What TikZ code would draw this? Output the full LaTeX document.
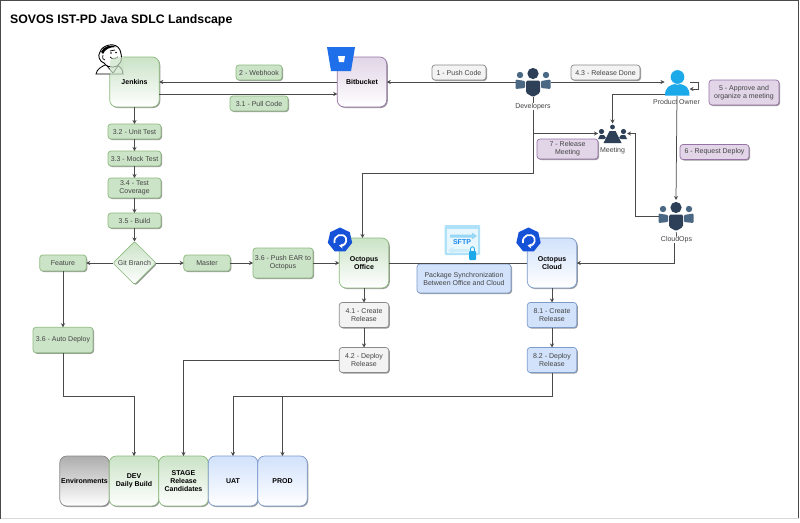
\documentclass[tikz,border=0pt]{standalone}
\usepackage{fontspec}
\setmainfont{Liberation Sans}
\usetikzlibrary{positioning,arrows.meta,shapes.geometric,shadows}
\definecolor{greenfill}{HTML}{CBE3C7}
\definecolor{greenline}{HTML}{8DBB7F}
\definecolor{purplefill}{HTML}{E1D5E7}
\definecolor{purpleline}{HTML}{9673A6}
\definecolor{bluefill}{HTML}{D2E2FB}
\definecolor{blueline}{HTML}{7C9BCB}
\definecolor{greyfill}{HTML}{F3F3F3}
\definecolor{greyline}{HTML}{8A8A8A}
\definecolor{textgrey}{HTML}{444444}
\definecolor{linegrey}{HTML}{4A4A4A}
\definecolor{crowddark}{HTML}{2E4057}
\definecolor{crowdside}{HTML}{4A6784}
\definecolor{ownerblue}{HTML}{1BA9EA}
\definecolor{octoblue}{HTML}{1652D8}
\definecolor{bucketblue}{HTML}{1F6FEB}
\tikzset{
x=1pt,
y=-1pt,
>={Stealth[length=4pt,width=4pt]},
flow/.style={->,draw=linegrey,line width=.75pt},
plain/.style={draw=linegrey,line width=.75pt},
softshadow/.style={drop shadow={shadow xshift=1pt,shadow yshift=-1pt,opacity=.4,fill=black}},
stepbox/.style={rounded corners=3pt,softshadow,align=center,inner sep=0pt,outer sep=0pt,line width=.7pt,
  text=textgrey,font=\fontsize{7}{8}\selectfont},
greenstep/.style={stepbox,fill=greenfill,draw=greenline},
purplestep/.style={stepbox,fill=purplefill,draw=purpleline},
greystep/.style={stepbox,fill=greyfill,draw=greyline},
bluestep/.style={stepbox,fill=bluefill,draw=blueline},
bigbox/.style={rounded corners=7pt,softshadow,align=center,inner sep=0pt,outer sep=0pt,line width=.7pt,
  minimum width=49.5pt,minimum height=50pt,bottom color=white,text=black,
  font=\bfseries\fontsize{7}{8}\selectfont},
biggreen/.style={bigbox,top color=greenfill,draw=greenline},
bigpurple/.style={bigbox,top color=purplefill,draw=purpleline},
bigblue/.style={bigbox,top color=bluefill,draw=blueline},
biggrey/.style={bigbox,top color=black!32,draw=greyline},
iconbox/.style={inner sep=0pt,outer sep=0pt,minimum width=#1},
caption/.style={inner sep=0pt,text=textgrey,font=\fontsize{7}{8}\selectfont},
octoicon/.style={regular polygon,regular polygon sides=7,fill=octoblue,inner sep=0pt,minimum size=25pt},
pics/crowd/.style={code={
  \fill[crowdside] (-13,-7) circle[radius=3.2] (13,-7) circle[radius=3.2];
  \fill[crowdside,rounded corners=1pt] (-17.5,-2.5) -- (-8,-1) -- (-8,6) -- (-17.5,7) -- cycle;
  \fill[crowdside,rounded corners=1pt] (17.5,-2.5) -- (8,-1) -- (8,6) -- (17.5,7) -- cycle;
  \fill[crowddark] (0,-8.5) circle[radius=5.6];
  \fill[crowddark,rounded corners=1.5pt] (-7,-1.5) -- (7,-1.5) -- (7,11) -- (0,15) -- (-7,11) -- cycle;
}},
}

\begin{document}
\begin{tikzpicture}
    \useasboundingbox (0,0) rectangle (800,522);
    \fill[white] (0,0) rectangle (800,522);
    \draw[linegrey,line width=1pt] (.5,518.5) -- (.5,.5) -- (798.5,.5) -- (798.5,518.5);
    \draw[black!15,line width=1pt] (.5,518.5) -- (798.5,518.5);

    \node[anchor=west,inner sep=0pt,font=\bfseries\fontsize{12.3}{14}\selectfont] (title) at (10,20.5) {SOVOS IST-PD Java SDLC Landscape};

    \node[biggreen] (jenkins) at (134.5,82) {Jenkins};
    \node[bigpurple] (bitbucket) at (362,82) {Bitbucket};
    \fill[bucketblue] (327,47) -- (355,47) -- (351,71) -- (331,71) -- cycle;
    \fill[white] (338,56) -- (345,56) -- (344,62) -- (339,62) -- cycle;

    \draw[fill=white,line width=.8pt] (96,74) .. controls (97,69) and (101,67) .. (105,65) -- (118,66) .. controls (122,68) and (123,71) .. (123,74) -- cycle;
    \draw[fill=white,line width=.9pt] (100,52) .. controls (102,45) and (116,41) .. (120,50) .. controls (122,56) and (122,60) .. (120,63) .. controls (118,68) and (108,69) .. (104,63) .. controls (100,62) and (97,56) .. (100,52) -- cycle;
    \fill (101,52) .. controls (103,46) and (112,44) .. (116,47) .. controls (110,47) and (105,49) .. (103,54) -- cycle;
    \draw[line width=.7pt] (110,51) -- (115,50) (110,57) .. controls (113,60) and (116,59) .. (118,57) (103,55) .. controls (102,58) and (103,60) .. (105,60) (107,66) -- (113,73) (118,66) -- (113,73);
    \fill (111,53) circle[radius=.8] (116,52.5) circle[radius=.8];
    \begin{scope}
      \clip[rounded corners=7pt] (109.5,57) rectangle (159,107);
      \fill[greenfill,opacity=.7] (109.5,57) rectangle (124,75);
    \end{scope}

    \node[greenstep,minimum width=53pt,minimum height=15pt,below=17pt of jenkins] (unittest) {3.2 - Unit Test};
    \node[greenstep,minimum width=53pt,minimum height=15pt,below=12pt of unittest] (mocktest) {3.3 - Mock Test};
    \node[greenstep,minimum width=53pt,minimum height=20pt,below=12pt of mocktest] (coverage) {3.4 - Test\\Coverage};
    \node[greenstep,minimum width=53pt,minimum height=15pt,below=15pt of coverage] (build) {3.5 - Build};
    \node[diamond,aspect=1,rounded corners=2pt,softshadow,inner sep=0pt,outer sep=0pt,minimum size=43pt,line width=.7pt,
      top color=greenfill,bottom color=white,draw=greenline,text=textgrey,font=\fontsize{7}{8}\selectfont] (gitbranch) at (134.5,263) {Git Branch};
    \node[greenstep,minimum width=46.5pt,minimum height=16pt] (feature) at (63,263) {Feature};
    \node[greenstep,minimum width=46.5pt,minimum height=16pt] (master) at (207,263) {Master};
    \node[greenstep,minimum width=60pt,minimum height=30pt] (pushear) at (283,263) {3.6 - Push EAR to\\Octopus};
    \node[greenstep,minimum width=60pt,minimum height=25.5pt] (autodeploy) at (63,340) {3.6 - Auto Deploy};

    \node[biggreen] (office) at (364,263) {Octopus\\Office};
    \node[bigblue] (cloud) at (552,263) {Octopus\\Cloud};
    \node[octoicon] (officeicon) at (340,240) {};
    \node[octoicon] (cloudicon) at (528.5,240) {};
    \draw[white,line width=1.7pt,-{Stealth[length=4pt,width=5pt]}] (334.5,243) .. controls (333,235) and (343,232) .. (346,238) .. controls (347.5,243) and (343,246) .. (339,245.5);
    \draw[white,line width=1.7pt,-{Stealth[length=4pt,width=5pt]}] (523,243) .. controls (521.5,235) and (531.5,232) .. (534.5,238) .. controls (536,243) and (531.5,246) .. (527.5,245.5);

    \node[greystep,minimum width=49.5pt,minimum height=25pt,below=14.5pt of office] (createoffice) {4.1 - Create\\Release};
    \node[greystep,minimum width=49.5pt,minimum height=25pt,below=20pt of createoffice] (deployoffice) {4.2 - Deploy\\Release};
    \node[bluestep,minimum width=49.5pt,minimum height=25pt,below=14.5pt of cloud] (createcloud) {8.1 - Create\\Release};
    \node[bluestep,minimum width=49.5pt,minimum height=25pt,below=20pt of createcloud] (deploycloud) {8.2 - Deploy\\Release};
    \node[bluestep,minimum width=94pt,minimum height=29pt] (package) at (464,278.5) {Package Synchronization\\Between Office and Cloud};

    \node[biggrey] (envs) at (84.5,481) {Environments};
    \node[biggreen,right=0pt of envs] (envdev) {DEV\\Daily Build};
    \node[biggreen,right=0pt of envdev] (envstage) {STAGE\\Release\\Candidates};
    \node[bigblue,right=0pt of envstage] (envuat) {UAT};
    \node[bigblue,right=0pt of envuat] (envprod) {PROD};

    \node[iconbox=35pt,minimum height=29pt] (developers) at (533,82) {};
    \pic at (developers) {crowd};
    \node[caption] (devlabel) at (533,106.5) {Developers};
    \node[iconbox=25pt,minimum height=28pt] (owner) at (677,82) {};
    \fill[ownerblue] (665,95.5) .. controls (665,88) and (669,84) .. (677.5,84) .. controls (686,84) and (689.5,88) .. (689.5,95.5) -- cycle;
    \draw[fill=ownerblue,draw=white,line width=.6pt] (677.5,77) circle[radius=7.3];
    \node[caption] (ownerlabel) at (676.5,101.5) {Product Owner};
    \node[iconbox=29pt,minimum height=20pt] (meeting) at (612.5,133.5) {};
    \fill[crowddark] (612.5,127) circle[radius=2.4] (601.5,131.5) circle[radius=2.6] (623.5,131.5) circle[radius=2.6];
    \fill[crowddark] (609.5,131) -- (615.5,131) -- (621.5,143) -- (603.5,143) -- cycle;
    \fill[crowddark] (598,139) -- (600,135) -- (604,135) -- (606,138) -- (604,139) -- cycle;
    \fill[crowddark] (627,139) -- (625,135) -- (621,135) -- (619,138) -- (621,139) -- cycle;
    \node[caption] (meetlabel) at (612.5,150.5) {Meeting};
    \node[iconbox=35pt,minimum height=32pt] (cloudops) at (676,216) {};
    \pic at (cloudops) {crowd};
    \node[caption] (opslabel) at (676.5,240) {CloudOps};

    \fill[ownerblue!35,rounded corners=1pt] (444.5,225) rectangle (480,255);
    \fill[white] (444.5,225) ++(2,4) rectangle (478,253);
    \fill[ownerblue!10] (446.5,229) rectangle (478,253);
    \fill[ownerblue!45] (450,234.5) -- (472,234.5) -- (472,232.5) -- (477,236) -- (472,239.5) -- (472,237.5) -- (450,237.5) -- cycle;
    \fill[ownerblue!22] (470,249) -- (453,249) -- (453,247) -- (448,250.5) -- (453,254) -- (453,252) -- (470,252) -- cycle;
    \node[inner sep=0pt,text=ownerblue!80!blue,font=\bfseries\fontsize{7}{8}\selectfont] (sftp) at (462,242.5) {SFTP};
    \fill[ownerblue,rounded corners=1pt] (469,251) rectangle (476,260);
    \draw[ownerblue,line width=.8pt] (470.5,251) -- (470.5,249) .. controls (470.5,246) and (474.5,246) .. (474.5,249) -- (474.5,251);

    \node[greenstep,minimum width=46pt,minimum height=15pt] (webhook) at (259,72.5) {2 - Webhook};
    \node[greenstep,minimum width=58pt,minimum height=15pt] (pullcode) at (259,103.5) {3.1 - Pull Code};
    \node[greystep,minimum width=54pt,minimum height=15pt] (pushcode) at (459,72.5) {1 - Push Code};
    \node[greystep,minimum width=69pt,minimum height=15pt] (releasedone) at (605.5,72.5) {4.3 - Release Done};
    \node[purplestep,minimum width=70pt,minimum height=25pt] (approve) at (744,92.5) {5 - Approve and\\organize a meeting};
    \node[purplestep,minimum width=61pt,minimum height=20pt] (releasemeet) at (567.5,149) {7 - Release\\Meeting};
    \node[purplestep,minimum width=69pt,minimum height=15pt] (reqdeploy) at (714.5,152) {6 - Request Deploy};

    \coordinate (devturn) at (533,173);
    \coordinate (devbranch) at (533,133.5);
    \coordinate (meetturn) at (635,133.5);
    \coordinate (autoturn) at (63,396);
    \coordinate (cloudturn) at (552,396);
    \coordinate (prodturn) at (envprod.north |- cloudturn);

    \draw[flow] (bitbucket.west) -- (jenkins.east);
    \draw[flow] ([yshift=-12pt]jenkins.east) -- ([yshift=-12pt]bitbucket.west);
    \draw[flow] (developers.west) -- (bitbucket.east);
    \draw[flow] (developers.east) -- (owner.west);
    \draw[flow] (owner.east) -- ++(9,0) |- ([yshift=-7pt]owner.east);
    \draw[flow] ([yshift=-12pt]owner.west) -| (meeting.north);
    \draw[flow] (owner.south) -- (cloudops.north);
    \draw[plain] (developers) -- (devlabel);
    \draw[flow] (devlabel.south) -- (devturn) -| ([xshift=-1.5pt]office.north);
    \draw[flow] (devbranch) -- (meeting.west);
    \draw[flow] (cloudops.west) -| (meetturn) -- (meeting.east);
    \draw[plain] (cloudops) -- (opslabel);
    \draw[flow] ([xshift=-2pt]opslabel.south) |- (cloud.east);

    \draw[flow] (jenkins) -- (unittest);
    \draw[flow] (unittest) -- (mocktest);
    \draw[flow] (mocktest) -- (coverage);
    \draw[flow] (coverage) -- (build);
    \draw[flow] (build) -- (gitbranch);
    \draw[flow] (gitbranch) -- (feature);
    \draw[flow] (gitbranch) -- (master);
    \draw[flow] (master) -- (pushear);
    \draw[flow] (pushear) -- (office);
    \draw[plain] (office) -- (cloud);
    \draw[flow] (feature) -- (autodeploy);
    \draw[flow] (autodeploy.south) -- (autoturn) -| (envdev.north);
    \draw[flow] (office) -- (createoffice);
    \draw[flow] (createoffice) -- (deployoffice);
    \draw[flow] (deployoffice.west) -| (envstage.north);
    \draw[flow] (cloud) -- (createcloud);
    \draw[flow] (createcloud) -- (deploycloud);
    \draw[flow] (deploycloud.south) -- (cloudturn) -| (envuat.north);
    \draw[flow] (prodturn) -- (envprod.north);

\end{tikzpicture}
\end{document}
